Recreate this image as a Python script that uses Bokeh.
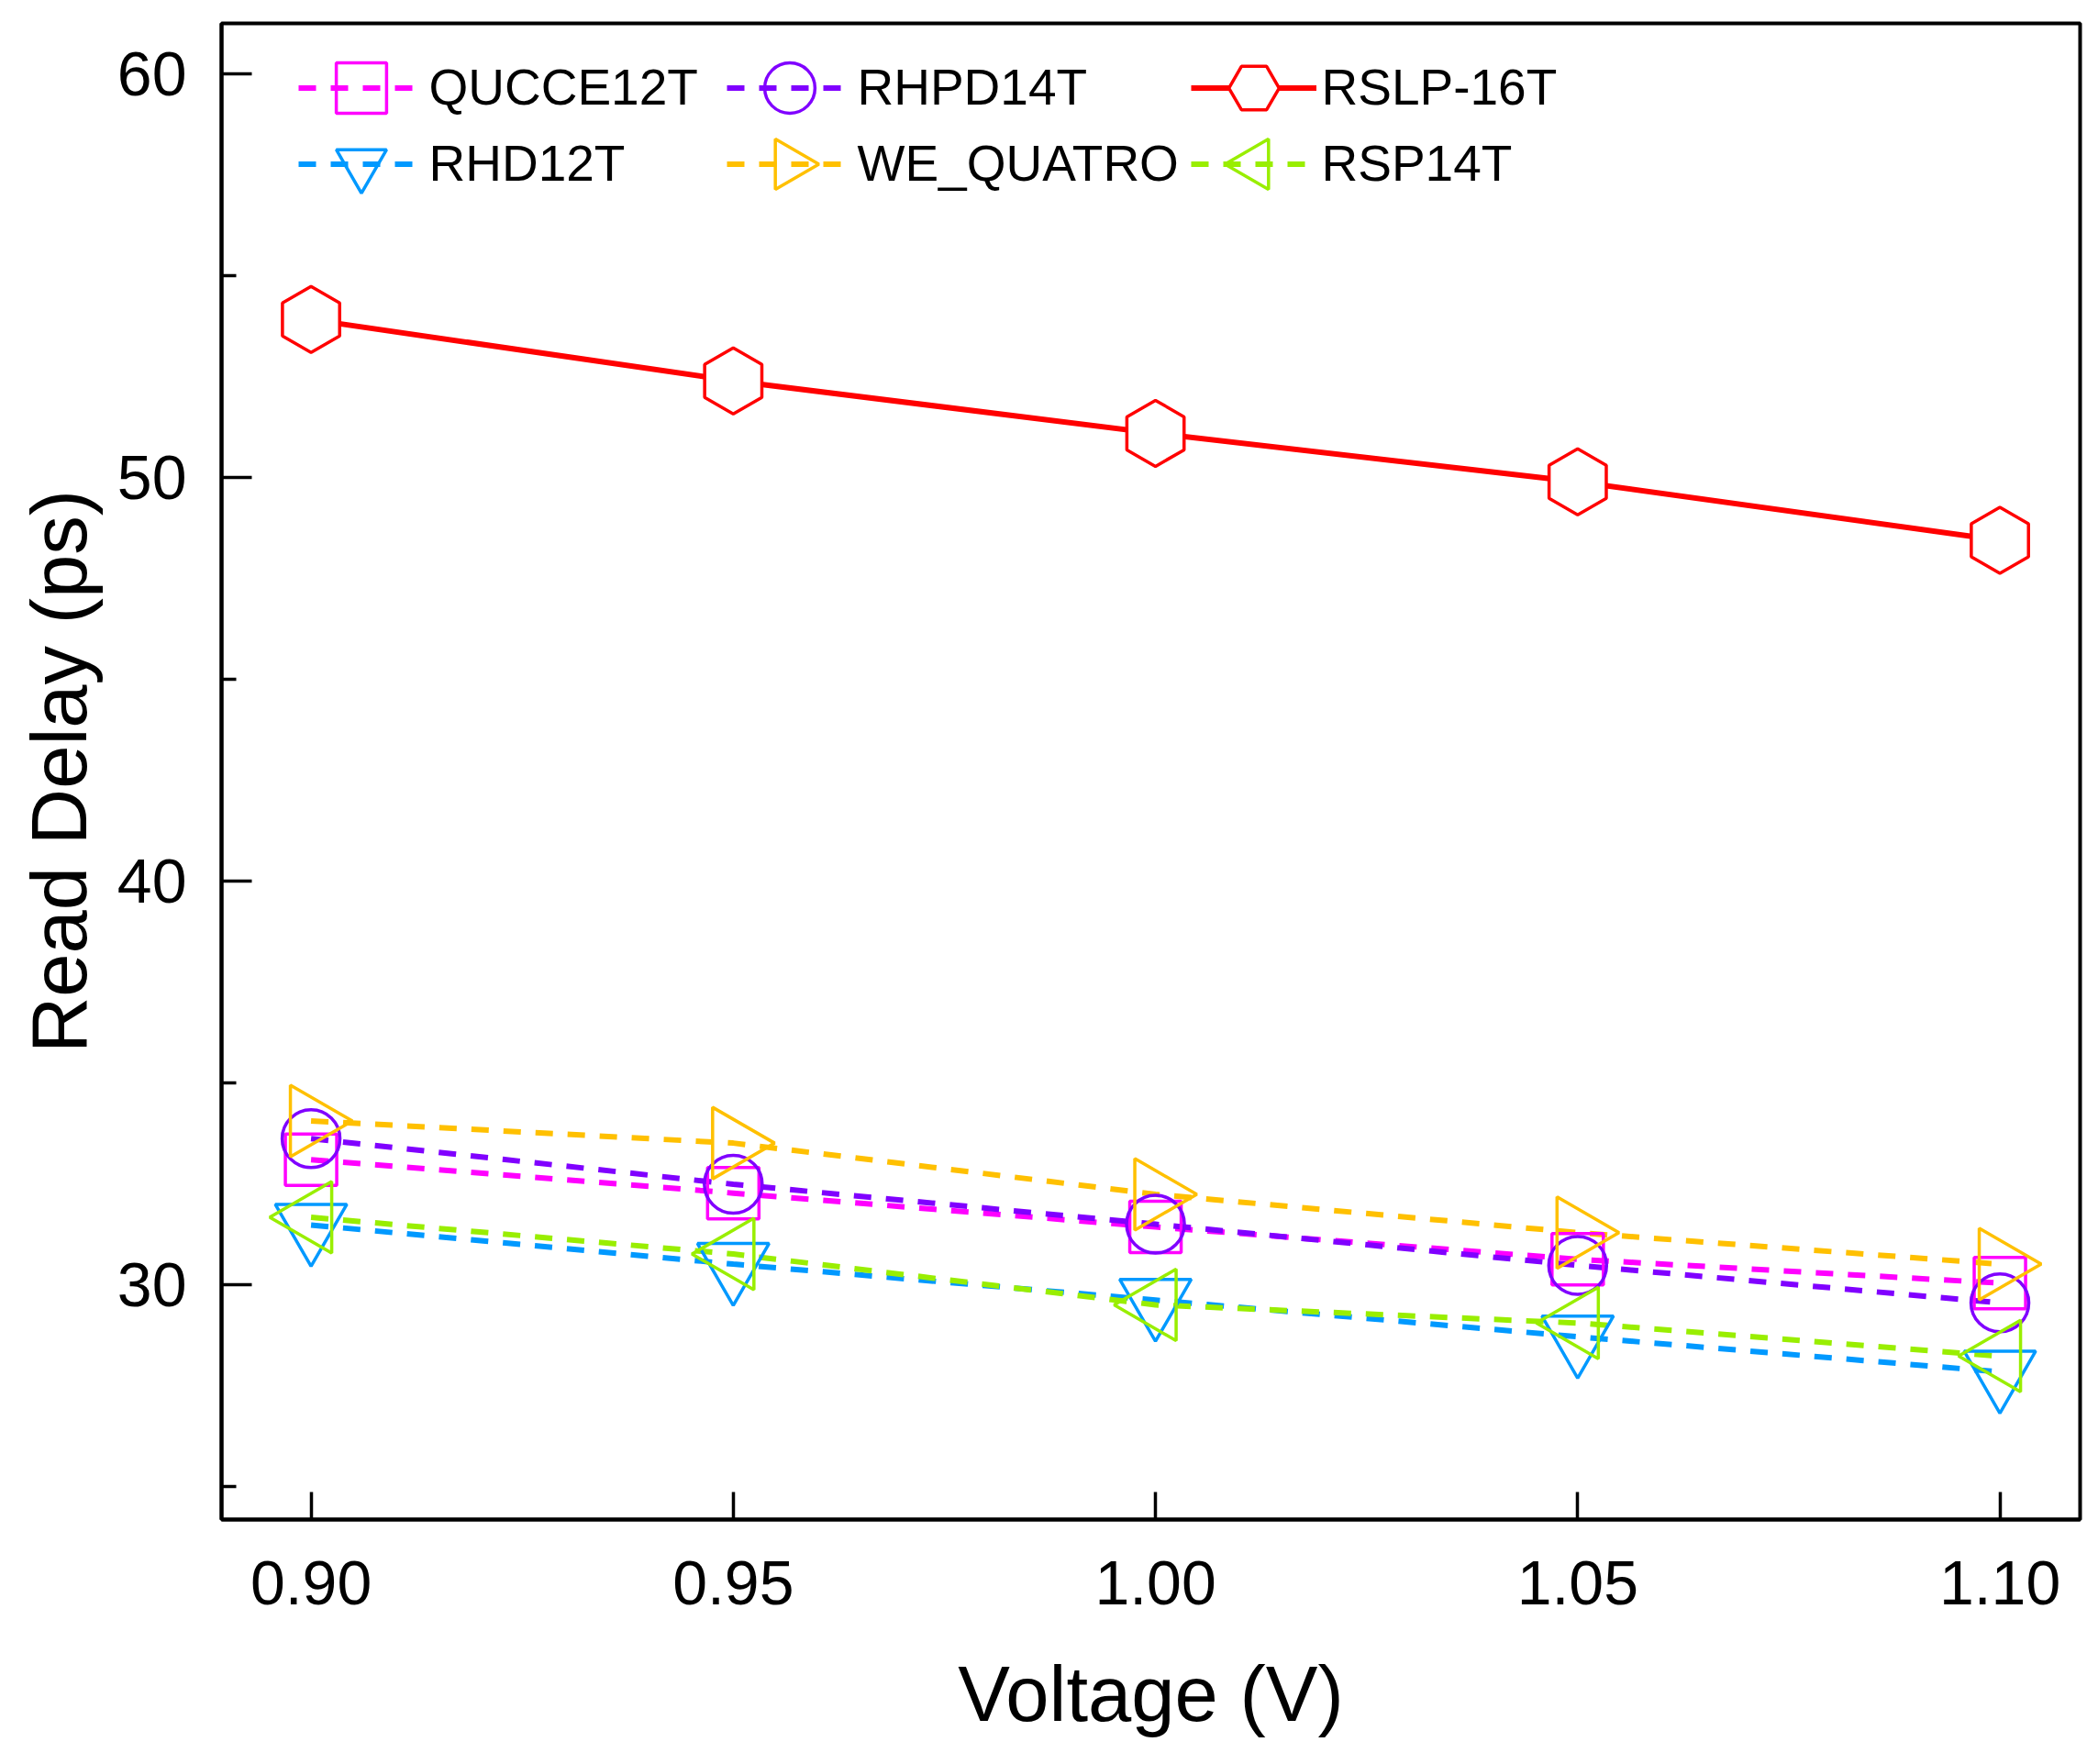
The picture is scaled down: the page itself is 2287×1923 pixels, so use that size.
import math
from bokeh.plotting import figure
from bokeh.models import (Range1d, FixedTicker, Legend, LegendItem,
                          PrintfTickFormatter, CustomJS)
from bokeh.embed import file_html
from bokeh.resources import INLINE

# ---------------- data ----------------
voltage = [0.90, 0.95, 1.00, 1.05, 1.10]

qucce12t = [33.10, 32.27, 31.43, 30.63, 30.04]
rhpd14t = [33.62, 32.49, 31.50, 30.48, 29.55]
rslp16t = [53.92, 52.40, 51.10, 49.90, 48.45]
rhd12t = [31.48, 30.51, 29.62, 28.71, 27.84]
we_quatro = [34.06, 33.51, 32.24, 31.29, 30.51]
rsp14t = [31.67, 30.76, 29.50, 29.05, 28.23]

series_names = ["QUCCE12T", "RHPD14T", "RSLP-16T", "RHD12T", "WE_QUATRO", "RSP14T"]
series_values = [qucce12t, rhpd14t, rslp16t, rhd12t, we_quatro, rsp14t]

x_ticks = [0.90, 0.95, 1.00, 1.05, 1.10]
y_ticks = [30, 40, 50, 60]
y_minor_ticks = [25, 35, 45, 55]

x_label = "Voltage (V)"
y_label = "Read Delay (ps)"

# ---------------- custom triangle markers (pointing right / left) ----------------
TRI_RIGHT = CustomJS(code="""
export default (args, obj, {ctx, i, r, visuals}) => {
  const h = r*Math.sqrt(3)
  const a = h/3
  ctx.beginPath()
  ctx.moveTo(-a, -r)
  ctx.lineTo(-a, r)
  ctx.lineTo(h - a, 0)
  ctx.closePath()
  visuals.fill.apply(ctx, i)
  visuals.hatch.apply(ctx, i)
  visuals.line.apply(ctx, i)
}
""")
TRI_LEFT = CustomJS(code="""
export default (args, obj, {ctx, i, r, visuals}) => {
  const h = r*Math.sqrt(3)
  const a = h/3
  ctx.beginPath()
  ctx.moveTo(a, -r)
  ctx.lineTo(a, r)
  ctx.lineTo(a - h, 0)
  ctx.closePath()
  visuals.fill.apply(ctx, i)
  visuals.hatch.apply(ctx, i)
  visuals.line.apply(ctx, i)
}
""")
MARKER_DEFS = {"@tri_right": TRI_RIGHT, "@tri_left": TRI_LEFT}

# ---------------- styles ----------------
FONT = "Liberation Sans"
styles = [
    dict(color="#FF00FF", marker="square", angle=0.0, size=56, dash="19 16"),
    dict(color="#8000FF", marker="circle", angle=0.0, size=63, dash="19 16"),
    dict(color="#FF0000", marker="hex", angle=math.pi / 2, size=72, dash="solid"),
    dict(color="#0099FF", marker="inverted_triangle", angle=0.0, size=78, dash="19 16"),
    dict(color="#FFC000", marker="@tri_right", angle=0.0, size=78, dash="19 16"),
    dict(color="#99EE00", marker="@tri_left", angle=0.0, size=78, dash="19 16"),
]

W, H = 2271, 1907
FRAME_L, FRAME_R, FRAME_T, FRAME_B = 241, 2267, 25, 1656

p = figure(width=W, height=H, output_backend="svg", toolbar_location=None,
           x_range=Range1d(0.8894, 1.1095), y_range=Range1d(24.18, 61.26),
           min_border_left=FRAME_L, min_border_right=W - FRAME_R,
           min_border_top=FRAME_T, min_border_bottom=H - FRAME_B)

p.background_fill_color = "white"
p.border_fill_color = "white"
p.outline_line_color = "black"
p.outline_line_width = 4
p.outline_line_alpha = 1.0
p.xgrid.visible = False
p.ygrid.visible = False

for ax in (p.xaxis[0], p.yaxis[0]):
    ax.axis_line_width = 4
    ax.axis_line_color = "black"
    ax.major_tick_line_width = 3.5
    ax.minor_tick_line_width = 3.5
    ax.major_tick_out = 0
    ax.minor_tick_out = 0
    ax.major_label_text_font = FONT
    ax.major_label_text_font_size = "68px"
    ax.major_label_text_color = "black"
    ax.axis_label_text_font = FONT
    ax.axis_label_text_font_size = "85px"
    ax.axis_label_text_font_style = "normal"
    ax.axis_label_text_color = "black"

p.xaxis[0].ticker = FixedTicker(ticks=x_ticks, minor_ticks=[])
p.xaxis[0].formatter = PrintfTickFormatter(format="%.2f")
p.xaxis[0].major_tick_in = 30
p.xaxis[0].minor_tick_in = 0
p.xaxis[0].major_label_standoff = 45
p.xaxis[0].axis_label = x_label
p.xaxis[0].axis_label_standoff = 47

p.yaxis[0].ticker = FixedTicker(ticks=y_ticks, minor_ticks=y_minor_ticks)
p.yaxis[0].formatter = PrintfTickFormatter(format="%d")
p.yaxis[0].major_tick_in = 33
p.yaxis[0].minor_tick_in = 16
p.yaxis[0].major_label_standoff = 38
p.yaxis[0].axis_label = y_label
p.yaxis[0].axis_label_standoff = 13

line_renderers = []
for vals, st in zip(series_values, styles):
    r = p.line(voltage, vals, line_color=st["color"], line_width=6,
               line_dash=st["dash"])
    line_renderers.append(r)

scatter_renderers = []
for vals, st in zip(series_values, styles):
    is_red = st["marker"] == "hex"
    kw = {}
    if st["marker"].startswith("@"):
        kw["defs"] = MARKER_DEFS
    r = p.scatter(voltage, vals, marker=st["marker"], size=st["size"],
                  angle=st["angle"], line_color=st["color"], line_width=3.5,
                  fill_color="white" if is_red else None,
                  fill_alpha=1.0 if is_red else 0.0, **kw)
    scatter_renderers.append(r)

GW = GH = 137
LEG_COL_X = [393, 860, 1366]
LEG_ROW_Y = [95, 178]
for i, name in enumerate(series_names):
    row, col = divmod(i, 3)
    cx, cy = LEG_COL_X[col], LEG_ROW_Y[row]
    vx = cx - GW / 2 - FRAME_L
    vy = FRAME_B - (cy + GH / 2)
    leg = Legend(items=[LegendItem(label=name,
                                   renderers=[line_renderers[i], scatter_renderers[i]])],
                 location=(vx, vy), orientation="horizontal",
                 glyph_width=GW, glyph_height=GH, label_standoff=6,
                 padding=0, margin=0, spacing=0,
                 border_line_alpha=0, background_fill_alpha=0,
                 label_text_font=FONT, label_text_font_size="55px",
                 label_text_color="black")
    p.add_layout(leg)

open("out.html", "w").write(file_html(p, INLINE))
